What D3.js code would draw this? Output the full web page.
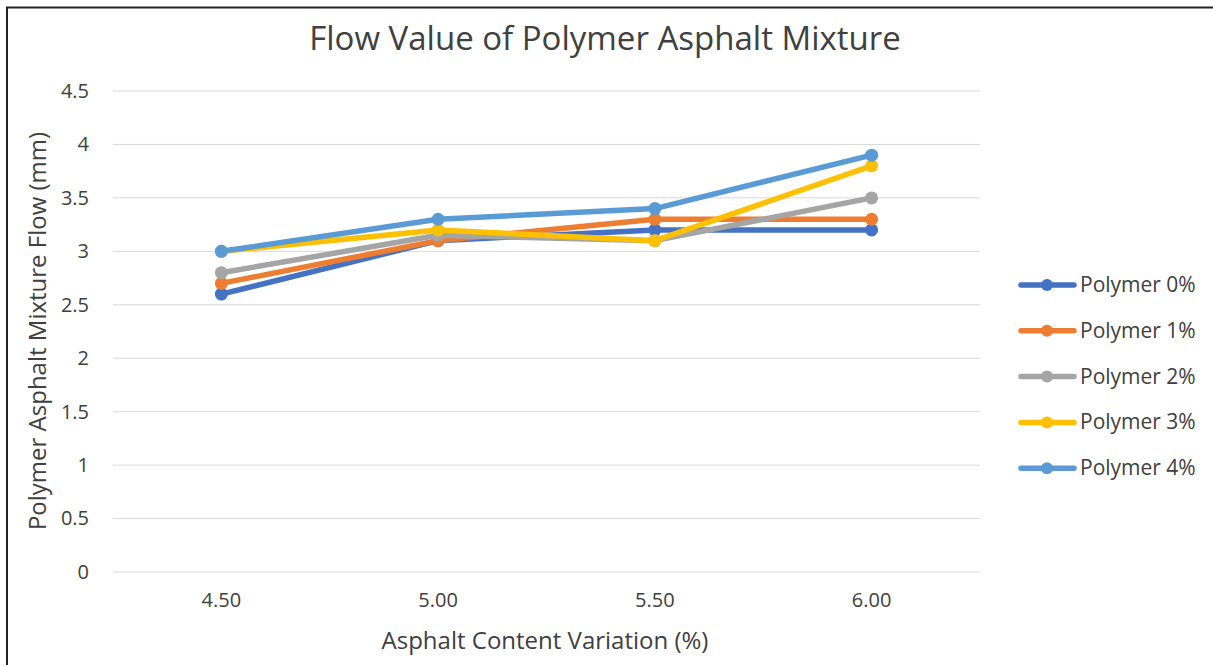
<!DOCTYPE html>
<html><head><meta charset="utf-8">
<script src="https://cdn.jsdelivr.net/npm/d3@7"></script>
<style>body{margin:0;background:#fff}svg{display:block}text{font-family:"Open Sans","Noto Sans",sans-serif;fill:#404040}</style>
</head><body><svg id="c" width="1213" height="665"></svg>
<script>
const categories = ["4.50","5.00","5.50","6.00"];
const seriesNames = ["Polymer 0%","Polymer 1%","Polymer 2%","Polymer 3%","Polymer 4%"];
const p0 = [2.6,3.1,3.2,3.2];
const p1 = [2.7,3.1,3.3,3.3];
const p2 = [2.8,3.15,3.1,3.5];
const p3 = [3.0,3.2,3.1,3.8];
const p4 = [3.0,3.3,3.4,3.9];
const yTicks = [0,0.5,1,1.5,2,2.5,3,3.5,4,4.5];
const colors = ["#4472c4","#ed7d31","#a5a5a5","#ffc000","#5b9bd5"];
const series = [p0,p1,p2,p3,p4];

const svg = d3.select("#c");
svg.append("rect").attr("x",0).attr("y",0).attr("width",1213).attr("height",665).attr("fill","#fff");
svg.append("path").attr("d","M7,665V7.5H1213").attr("fill","none").attr("stroke","#222").attr("stroke-width",2);

const x = d3.scaleBand().domain(categories).range([113,980]);
const y = d3.scaleLinear().domain([0,4.5]).range([572,91]);

svg.append("g").selectAll("line").data(yTicks).join("line")
 .attr("x1",113).attr("x2",980).attr("y1",d=>y(d)).attr("y2",d=>y(d))
 .attr("stroke","#d9d9d9").attr("stroke-width",1);

const yAxis = svg.append("g").attr("transform","translate(113,0)")
 .call(d3.axisLeft(y).tickValues(yTicks).tickSize(0).tickPadding(24).tickFormat(d3.format("")));
yAxis.select(".domain").remove();
yAxis.selectAll("text").attr("font-size",20).attr("fill","#404040").style("font-family","'Open Sans',sans-serif");

const xAxis = svg.append("g").attr("transform","translate(0,572)")
 .call(d3.axisBottom(x).tickSize(0).tickPadding(21));
xAxis.select(".domain").remove();
xAxis.selectAll("text").attr("font-size",20).attr("fill","#404040").style("font-family","'Open Sans',sans-serif");

const line = d3.line().x((d,i)=>x(categories[i])+x.bandwidth()/2).y(d=>y(d));
series.forEach((s,k)=>{
  svg.append("path").datum(s).attr("d",line).attr("fill","none")
   .attr("stroke",colors[k]).attr("stroke-width",5.5).attr("stroke-linejoin","round").attr("stroke-linecap","round");
  svg.selectAll(".pt"+k).data(s).join("circle")
   .attr("cx",(d,i)=>x(categories[i])+x.bandwidth()/2).attr("cy",d=>y(d)).attr("r",6.5).attr("fill",colors[k]);
});

svg.append("text").attr("x",605).attr("y",50).attr("text-anchor","middle").attr("font-size",33).text("Flow Value of Polymer Asphalt Mixture");
svg.append("text").attr("x",545).attr("y",649).attr("text-anchor","middle").attr("font-size",24).text("Asphalt Content Variation (%)");
svg.append("text").attr("transform","translate(46,331) rotate(-90)").attr("text-anchor","middle").attr("font-size",24).text("Polymer Asphalt Mixture Flow (mm)");

const lg = svg.append("g");
seriesNames.forEach((n,k)=>{
  const ly = 285 + k*45.8;
  lg.append("line").attr("x1",1021).attr("x2",1074).attr("y1",ly).attr("y2",ly).attr("stroke",colors[k]).attr("stroke-width",5.5).attr("stroke-linecap","round");
  lg.append("circle").attr("cx",1047).attr("cy",ly).attr("r",6).attr("fill",colors[k]);
  lg.append("text").attr("x",1080).attr("y",ly+7).attr("font-size",21).text(n);
});
</script></body></html>
